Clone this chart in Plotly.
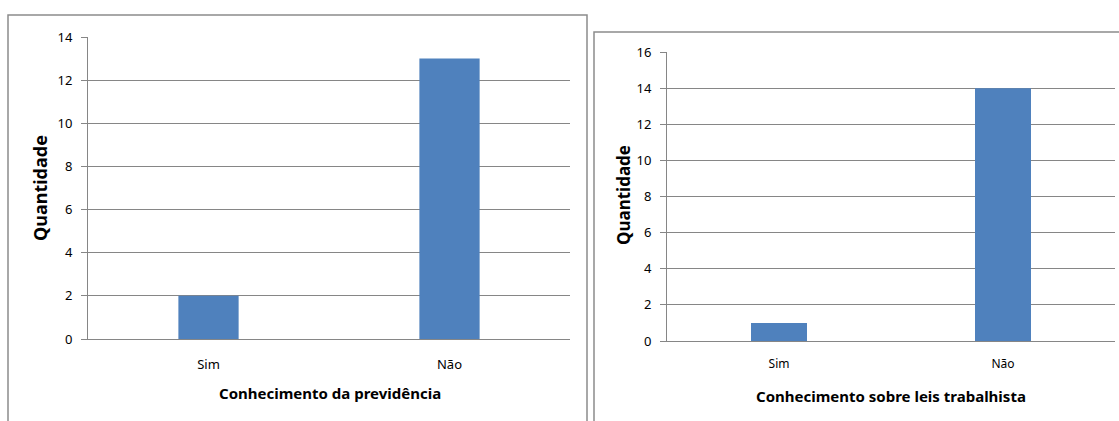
import plotly.graph_objects as go

W, H = 1119, 421

categories = ["Sim", "Não"]
previdencia_values = [2, 13]
leis_values = [1, 14]
left_ticks = [0, 2, 4, 6, 8, 10, 12, 14]
right_ticks = [0, 2, 4, 6, 8, 10, 12, 14, 16]

BAR = "#4F81BD"
GRID = "#868686"
BORDER = "#8C8C8C"
FONT = "Noto Sans"

def px_x(v):
    return v / W

def px_y(v):
    return 1 - v / H

fig = go.Figure()
fig.add_trace(go.Bar(x=categories, y=previdencia_values, marker=dict(color=BAR, line=dict(width=0)),
                     xaxis="x", yaxis="y", width=0.25))
fig.add_trace(go.Bar(x=categories, y=leis_values, marker=dict(color=BAR, line=dict(width=0)),
                     xaxis="x2", yaxis="y2", width=0.25))

common_y = dict(showline=True, linecolor=GRID, linewidth=1, ticks="outside", ticklen=6,
                tickcolor=GRID, showgrid=True, gridcolor=GRID, gridwidth=1, zeroline=False,
                fixedrange=True, automargin=False, tickfont=dict(size=13),
                ticklabelstandoff=6)
common_x = dict(showline=True, linecolor=GRID, linewidth=1, ticks="", showgrid=False,
                zeroline=False, type="category", automargin=False)

def ann(text, x, y, size, angle=0):
    return dict(text=text, xref="paper", yref="paper", x=px_x(x), y=px_y(y),
                xanchor="center", yanchor="middle", textangle=angle, showarrow=False,
                font=dict(size=size, family=FONT))

fig.update_layout(
    width=W, height=H,
    margin=dict(l=0, r=0, t=0, b=0, pad=0, autoexpand=False),
    paper_bgcolor="white", plot_bgcolor="white",
    showlegend=False,
    font=dict(family=FONT, color="#000000"),
    xaxis=dict(domain=[px_x(88), px_x(570)], anchor="y", tickfont=dict(size=13), ticklabelstandoff=13, **common_x),
    yaxis=dict(domain=[px_y(339), px_y(37)], anchor="x", range=[0, 14], tickvals=left_ticks, **common_y),
    xaxis2=dict(domain=[px_x(667), px_x(1115)], anchor="y2", tickfont=dict(size=12), ticklabelstandoff=12, **common_x),
    yaxis2=dict(domain=[px_y(341), px_y(52)], anchor="x2", range=[0, 16], tickvals=right_ticks, **common_y),
    shapes=[
        dict(type="rect", xref="paper", yref="paper", x0=px_x(8), x1=px_x(587), y0=px_y(440), y1=px_y(15),
             line=dict(color=BORDER, width=1.5), fillcolor="rgba(0,0,0,0)", layer="below"),
        dict(type="rect", xref="paper", yref="paper", x0=px_x(594), x1=px_x(1130), y0=px_y(440), y1=px_y(32),
             line=dict(color=BORDER, width=1.5), fillcolor="rgba(0,0,0,0)", layer="below"),
    ],
    annotations=[
        ann("<b>Quantidade</b>", 40, 188, 18, -90),
        ann("<b>Conhecimento da previdência</b>", 330, 393, 15),
        ann("<b>Quantidade</b>", 623, 195, 17, -90),
        ann("<b>Conhecimento sobre leis trabalhista</b>", 891, 396, 15),
    ],
)

fig.write_html("out.html")
